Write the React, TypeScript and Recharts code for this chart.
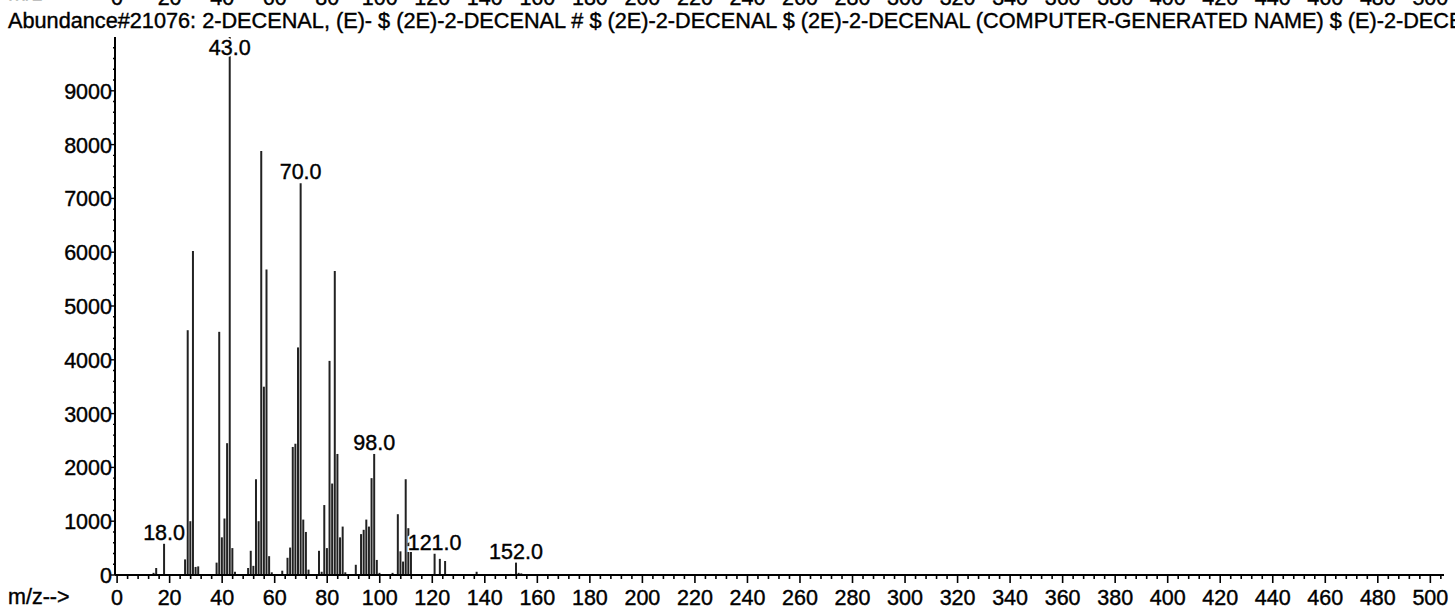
import { Bar, BarChart, LabelList, XAxis, YAxis } from "recharts";

// library spectrum, m/z vs abundance
const MZ = [
  14, 15, 18, 26, 27, 28, 29, 30, 31, 38, 39, 40, 41, 42, 43, 44, 45, 50, 51, 52,
  53, 54, 55, 56, 57, 58, 59, 63, 65, 66, 67, 68, 69, 70, 71, 72, 73, 77, 78, 79,
  80, 81, 82, 83, 84, 85, 86, 87, 91, 93, 94, 95, 96, 97, 98, 99, 100, 105, 107, 108,
  109, 110, 111, 112, 121, 123, 125, 137, 150, 152, 153, 154
];
const ABUNDANCE = [
  40, 130, 580, 290, 4550, 1000, 6020, 150, 160, 230, 4520, 700, 1050, 2450, 9999, 500, 60, 130, 450, 170,
  1780, 1000, 7880, 3500, 5680, 350, 50, 80, 320, 510, 2380, 2440, 4230, 7280, 1030, 800, 100, 450, 60, 1300,
  500, 3980, 1700, 5650, 2250, 700, 900, 50, 190, 760, 840, 1030, 900, 1800, 2250, 280, 40, 40, 1130, 440,
  250, 1780, 870, 480, 395, 300, 260, 60, 20, 230, 40, 30
];
const LABELED_MZ = [18, 43, 70, 98, 121, 152];

const MZ_LABELS = [0, 20, 40, 60, 80, 100, 120, 140, 160, 180, 200, 220, 240, 260, 280, 300, 320, 340, 360, 380, 400, 420, 440, 460, 480, 500];
const ABUNDANCE_LABELS = [0, 1000, 2000, 3000, 4000, 5000, 6000, 7000, 8000, 9000];

const TITLE =
  "Abundance#21076: 2-DECENAL, (E)- $ (2E)-2-DECENAL # $ (2E)-2-DECENAL $ (2E)-2-DECENAL (COMPUTER-GENERATED NAME) $ (E)-2-DECENAL";

const data = MZ.map((mz, i) => ({
  mz,
  abundance: ABUNDANCE[i],
  tag: LABELED_MZ.includes(mz) ? mz.toFixed(1) : ""
}));

// minor ticks: 5 per labelled step on both axes
const xTicks: number[] = [];
for (let v = 0; v <= 504; v += 4) xTicks.push(v);
const yTicks: number[] = [];
for (let v = 0; v <= 9800; v += 200) yTicks.push(v);

const FONT = "'Liberation Sans', Arial, sans-serif";
const FS = 21.5;
const textStyle = { fontSize: FS, fontFamily: FONT, fill: "#000", stroke: "#000", strokeWidth: 0.4 };

function BottomTick(props: any) {
  const { x, y, payload } = props;
  const major = MZ_LABELS.includes(payload.value);
  return (
    <g>
      <line x1={x} x2={x} y1={y} y2={y + (major ? 8 : 4)} stroke="#000" strokeWidth={1.6} />
      {major && (
        <text x={x} y={y + 30} textAnchor="middle" {...textStyle}>
          {payload.value}
        </text>
      )}
    </g>
  );
}

function TopTick(props: any) {
  const { x, payload } = props;
  return (
    <text x={x} y={5} textAnchor="middle" {...textStyle}>
      {payload.value}
    </text>
  );
}

function LeftTick(props: any) {
  const { x, y, payload } = props;
  const major = ABUNDANCE_LABELS.includes(payload.value);
  return (
    <g>
      <line x1={x - (major ? 4 : 2)} x2={x} y1={y} y2={y} stroke="#000" strokeWidth={1.4} />
      {major && (
        <text x={x - 3} y={y + 8} textAnchor="end" {...textStyle}>
          {payload.value}
        </text>
      )}
    </g>
  );
}

function PeakLabel(props: any) {
  const { x, y, width, value } = props;
  if (!value) return null;
  const base = Math.max(Number(y) - 4, 55);
  return (
    <g>
      <text x={Number(x) + Number(width) / 2} y={base} textAnchor="middle" fontSize={FS} fontFamily={FONT}
        fill="#fff" stroke="#fff" strokeWidth={4}>
        {value}
      </text>
      <text x={Number(x) + Number(width) / 2} y={base} textAnchor="middle" {...textStyle}>
        {value}
      </text>
    </g>
  );
}

const divText = {
  position: "absolute" as const,
  left: 8,
  fontFamily: FONT,
  fontSize: FS,
  whiteSpace: "nowrap" as const,
  color: "#000",
  WebkitTextStroke: "0.4px #000"
};

export default function App() {
  return (
    <div style={{ position: "absolute", left: 0, top: 0, width: 1455, height: 610, background: "#fff", overflow: "hidden" }}>
      <BarChart width={1455} height={610} data={data} margin={{ top: 7, right: 11, bottom: 0, left: 0 }} barSize={2}>
        <XAxis
          xAxisId="top"
          orientation="top"
          dataKey="mz"
          type="number"
          domain={[-0.8, 505.2]}
          ticks={MZ_LABELS}
          interval={0}
          height={30}
          axisLine={false}
          tickLine={false}
          tick={<TopTick />}
        />
        <XAxis
          dataKey="mz"
          type="number"
          domain={[-0.8, 505.2]}
          ticks={xTicks}
          interval={0}
          height={35}
          tickSize={0}
          tickMargin={0}
          tickLine={false}
          axisLine={{ stroke: "#000", strokeWidth: 2 }}
          tick={<BottomTick />}
        />
        <YAxis
          type="number"
          domain={[0, 10000]}
          ticks={yTicks}
          interval={0}
          width={115}
          tickSize={0}
          tickMargin={0}
          tickLine={false}
          axisLine={{ stroke: "#000", strokeWidth: 2 }}
          tick={<LeftTick />}
        />
        <Bar dataKey="abundance" fill="#222" isAnimationActive={false}>
          <LabelList dataKey="tag" content={<PeakLabel />} />
        </Bar>
      </BarChart>
      <div style={{ ...divText, top: -19 }}>m/z--&gt;</div>
      <div style={{ ...divText, top: 8, fontSize: 21.7 }}>{TITLE}</div>
      <div style={{ ...divText, top: 585 }}>m/z--&gt;</div>
    </div>
  );
}
